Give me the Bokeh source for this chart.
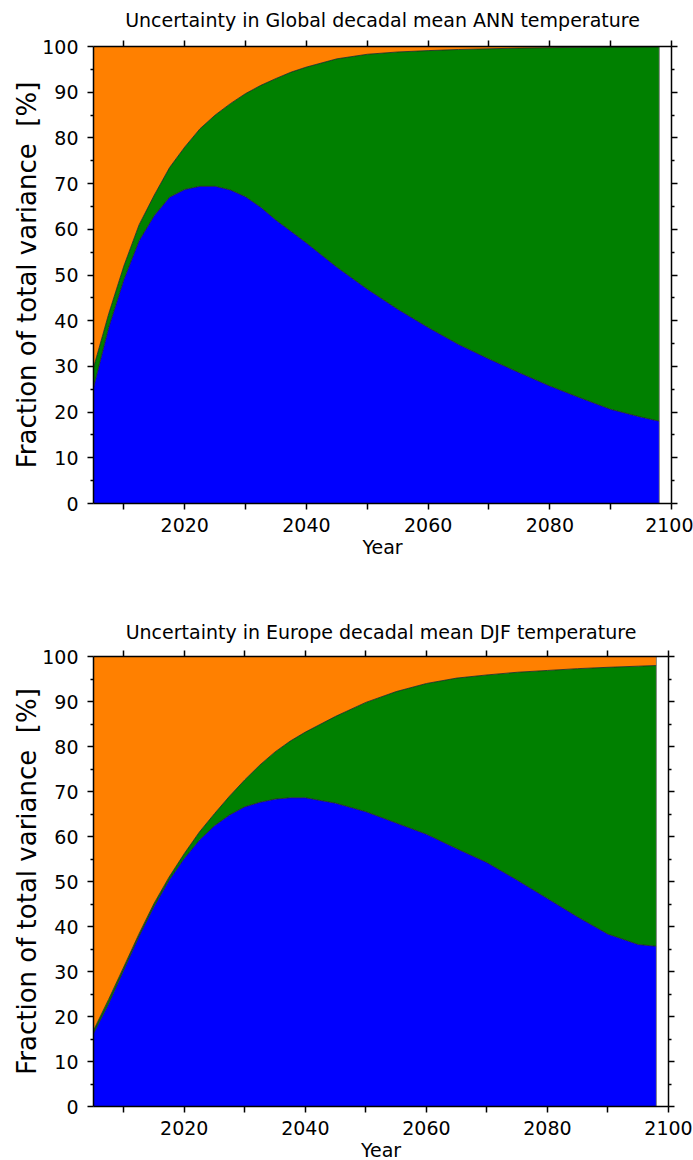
from bokeh.plotting import figure
from bokeh.layouts import column
from bokeh.models import Range1d, LinearAxis, FixedTicker
from bokeh.embed import file_html
from bokeh.resources import INLINE

FONT = "DejaVu Sans"

years = [2005, 2007.5, 2010, 2012.5, 2015, 2017.5, 2020, 2022.5, 2025, 2027.5, 2030,
         2032.5, 2035, 2037.5, 2040, 2045, 2050, 2055, 2060, 2065, 2070, 2075, 2080,
         2085, 2090, 2095, 2098]

# Global decadal mean ANN temperature (cumulative boundaries, %)
glob_blue = [25.3, 38.5, 49.0, 57.5, 63.0, 67.0, 68.7, 69.4, 69.4, 68.6, 67.1,
             64.8, 62.0, 59.5, 57.0, 51.7, 46.9, 42.5, 38.5, 34.8, 31.6, 28.6, 25.7,
             23.1, 20.6, 18.9, 18.0]
glob_green = [29.7, 41.5, 52.0, 61.0, 67.5, 73.5, 78.0, 82.0, 85.0, 87.5, 89.7,
              91.5, 93.0, 94.4, 95.5, 97.3, 98.3, 98.8, 99.1, 99.35, 99.5, 99.65, 99.75,
              99.82, 99.88, 99.92, 99.94]

# Europe decadal mean DJF temperature (cumulative boundaries, %)
eur_blue = [16.2, 22.8, 30.3, 37.7, 44.4, 50.3, 55.1, 59.2, 62.4, 64.8, 66.6,
            67.6, 68.3, 68.6, 68.6, 67.4, 65.5, 63.0, 60.5, 57.3, 54.2, 50.3, 46.2,
            42.1, 38.3, 36.0, 35.6]
eur_green = [16.9, 23.8, 31.0, 38.3, 45.1, 51.0, 56.2, 61.0, 65.1, 69.0, 72.6,
             75.9, 78.8, 81.2, 83.2, 86.7, 89.8, 92.2, 94.0, 95.2, 95.9, 96.5, 96.9,
             97.3, 97.6, 97.85, 98.0]

x_major = [2020, 2040, 2060, 2080, 2100]
x_minor = [2010, 2030, 2050, 2070, 2090]
y_major = [0, 10, 20, 30, 40, 50, 60, 70, 80, 90, 100]
y_minor = [5, 15, 25, 35, 45, 55, 65, 75, 85, 95]

ORANGE = "#FF8000"
GREEN = "#008000"
BLUE = "#0000FF"


def style_axis(ax, labels=True, minor_len=3):
    ax.axis_line_width = 1.5
    ax.axis_line_color = "black"
    ax.major_tick_line_width = 1.5
    ax.minor_tick_line_width = 1.5
    ax.major_tick_in = 0
    ax.minor_tick_in = 0
    ax.major_tick_out = 6
    ax.minor_tick_out = minor_len
    ax.major_label_text_font = FONT
    ax.major_label_text_font_size = "19px"
    ax.major_label_text_color = "black"
    ax.axis_label_text_font = FONT
    ax.axis_label_text_font_size = "19px"
    ax.axis_label_text_font_style = "normal"
    ax.axis_label_text_color = "black"
    if not labels:
        ax.major_label_text_font_size = "8px"
        ax.major_label_text_color = None
        ax.major_label_standoff = 0


def make(title, blue, green, fw, fh, bl, br, bt, bb, tstand):
    p = figure(frame_width=fw, frame_height=fh,
               x_range=Range1d(2005, 2100), y_range=Range1d(0, 100),
               output_backend="svg", toolbar_location=None,
               min_border_left=bl, min_border_right=br,
               min_border_top=bt, min_border_bottom=bb,
               x_axis_type=None, y_axis_type=None)
    p.grid.visible = False
    p.outline_line_color = None
    p.background_fill_color = "white"
    p.border_fill_color = "white"

    top100 = [100] * len(years)
    zero = [0] * len(years)
    p.varea(x=years, y1=green, y2=top100, fill_color=ORANGE)
    p.varea(x=years, y1=blue, y2=green, fill_color=GREEN)
    p.varea(x=years, y1=zero, y2=blue, fill_color=BLUE)
    p.line(x=years, y=green, line_color="#222222", line_width=0.8)
    p.line(x=years, y=blue, line_color="#222222", line_width=0.8)
    p.segment(x0=[years[-1]], y0=[0], x1=[years[-1]], y1=[100],
              line_color="#888888", line_width=1)

    xt = FixedTicker(ticks=x_major, minor_ticks=x_minor)
    yt = FixedTicker(ticks=y_major, minor_ticks=y_minor)

    bx = LinearAxis(ticker=xt, axis_label="Year")
    style_axis(bx, minor_len=6)
    bx.major_label_standoff = 8
    bx.axis_label_standoff = 1
    p.add_layout(bx, "below")

    # top axis: ticks only, carries the plot title as its label
    tx = LinearAxis(ticker=xt, axis_label=title)
    style_axis(tx, labels=False, minor_len=6)
    tx.axis_label_standoff = tstand
    p.add_layout(tx, "above")

    ly = LinearAxis(ticker=yt, axis_label="Fraction of total variance\u00a0 [%]")
    style_axis(ly)
    ly.axis_label_text_font_size = "26px"
    ly.major_label_standoff = 9
    ly.axis_label_standoff = -3
    p.add_layout(ly, "left")

    ry = LinearAxis(ticker=yt)
    style_axis(ry, labels=False)
    p.add_layout(ry, "right")
    return p


p1 = make("Uncertainty in Global decadal mean ANN temperature",
          glob_blue, glob_green, 578, 457, 90, 25, 46, 77, 10)
p2 = make("Uncertainty in Europe decadal mean DJF temperature",
          eur_blue, eur_green, 575, 450, 93, 25, 76, 54, 8)

layout = column(p1, p2, spacing=0)
open("out.html", "w").write(file_html(layout, INLINE))
